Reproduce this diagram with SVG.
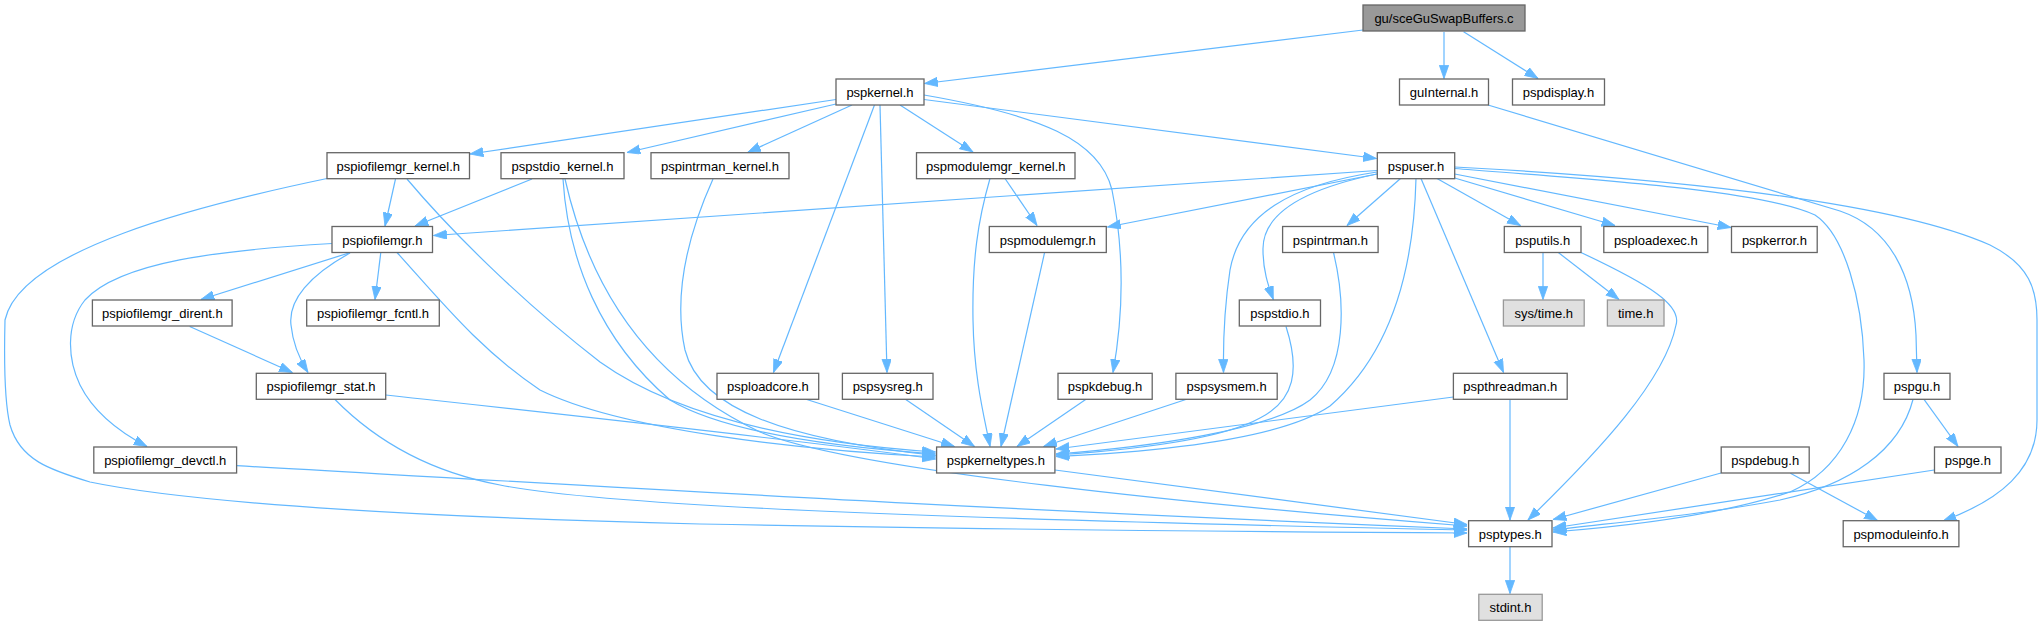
<svg xmlns="http://www.w3.org/2000/svg" width="2044" height="626" viewBox="0 0 2044 626">
<style>
.n rect{fill:#ffffff;stroke:#666666;stroke-width:1.3}
.n.main rect{fill:#999999;stroke:#666666}
.n.ext rect{fill:#e0e0e0;stroke:#999999}
.n text{font-family:"Liberation Sans",Arial,Helvetica,sans-serif;font-size:13px;fill:#000000;text-anchor:middle}
#edges path{fill:none;stroke:#63b8ff;stroke-width:1.2;marker-end:url(#arr)}
</style>
<defs>
<marker id="arr" markerUnits="userSpaceOnUse" markerWidth="14" markerHeight="10" refX="13.3" refY="4.7" orient="auto">
<path d="M0,0 L13.3,4.7 L0,9.4 z" fill="#63b8ff" stroke="#63b8ff" stroke-width="0.8"/>
</marker>
</defs>
<rect width="2044" height="626" fill="#ffffff"/>
<g id="edges">
<path d="M1363,30 L924.5,83.5"/>
<path d="M1444,32 L1444,78.5"/>
<path d="M1463.6,31.7 L1538,78.5"/>
<path d="M1488,105 L1840,211 C1890,228 1913,275 1916,335 L1917,372.5"/>
<path d="M836,99.5 L470,154"/>
<path d="M836,104 L627,152.5"/>
<path d="M852,105 L747.5,152.5"/>
<path d="M900,105 L973,152"/>
<path d="M924,99.5 L1376.5,158.5"/>
<path d="M874.5,105 L773.5,372.5"/>
<path d="M880,105 C882,200 885,290 887,372.5"/>
<path d="M924,95 C1040,115 1100,140 1112,190 C1122,240 1126,300 1113,372.5"/>
<path d="M1377,170.5 L433.5,235.5"/>
<path d="M1377,174 L1107.5,227"/>
<path d="M1400.5,178.5 L1347,225.5"/>
<path d="M1377,174 C1300,190 1262,215 1263,250 C1263,270 1268,285 1273.3,299.5"/>
<path d="M1377,172 C1290,185 1240,215 1230,270 C1224,310 1223,340 1223.5,372.5"/>
<path d="M1437,178.5 L1520.5,225.5"/>
<path d="M1454.7,178 L1615,225.5"/>
<path d="M1454.7,174 L1731,227.5"/>
<path d="M1421,178.5 L1503.5,372.5"/>
<path d="M1416,178.5 C1414,260 1395,350 1330,406 C1280,440 1150,452 1056,456.5"/>
<path d="M1453.4,397 L1056,449"/>
<path d="M1333.5,252.5 C1345,300 1348,370 1310,400 C1270,430 1150,447 1056,454"/>
<path d="M1286,326.5 C1300,370 1295,400 1260,418 C1220,440 1130,450 1056,455"/>
<path d="M407,179 C450,230 520,300 600,362 C660,405 760,440 935.5,452"/>
<path d="M563,179 C568,260 600,340 670,400 C720,430 820,446 935.5,454"/>
<path d="M565,179 C590,290 650,380 760,432 C850,470 1200,505 1467,526"/>
<path d="M397,252.5 C440,300 480,350 540,390 C620,430 800,450 935.5,457"/>
<path d="M385.7,395 C550,413 800,440 935.5,459"/>
<path d="M713,179 C690,230 672,290 685,350 C700,410 790,440 935.5,455.5"/>
<path d="M806,399.3 L954.5,446.5"/>
<path d="M905.4,399.3 L974.5,446.5"/>
<path d="M990,178.5 C978,220 972,260 973,320 C974,380 985,420 990,446.5"/>
<path d="M1044.6,252.5 L1001,446.5"/>
<path d="M1086,399.3 L1017,446.5"/>
<path d="M1186.6,399.3 L1043.5,446.5"/>
<path d="M395.5,179 L385,226"/>
<path d="M532,179 L415,226"/>
<path d="M327,178.5 C200,205 20,250 5,320 C4,360 4,400 10,425 C20,460 50,470 90,482 C200,505 450,518 700,524 C1000,530 1300,532 1467,533"/>
<path d="M335,399.5 C370,435 420,470 500,485 C600,505 900,518 1467,530"/>
<path d="M236.6,465.7 C700,492 1000,510 1467,529"/>
<path d="M1055,470 L1467,524.5"/>
<path d="M1510,399.5 L1510,520"/>
<path d="M1581,252.5 C1650,285 1682,305 1676,325 C1665,380 1600,450 1528,520"/>
<path d="M1721,473 L1553,519.5"/>
<path d="M1934.3,470 L1553,528"/>
<path d="M1913,399.5 C1900,450 1850,485 1780,500 C1700,515 1620,522 1553,530"/>
<path d="M1454.7,168.5 C1600,180 1760,190 1815,215 C1845,235 1862,300 1864,360 C1866,420 1840,470 1790,492 C1720,515 1630,526 1553,532"/>
<path d="M1454.7,167 C1700,180 1900,205 1990,245 C2030,265 2037,290 2037,320 L2037,420 C2037,470 2000,500 1943,521"/>
<path d="M1790.4,473.3 L1877.5,520.5"/>
<path d="M1924,399.3 L1958,446.5"/>
<path d="M1510,547 L1510,593.5"/>
<path d="M1543,252.5 L1543,299.5"/>
<path d="M1558.3,252.5 L1619,299.5"/>
<path d="M350.4,252.5 L200.9,299.5"/>
<path d="M380.8,252.5 L375,299.5"/>
<path d="M350,253 C310,275 288,300 291,325 C293,345 300,360 308,372.5"/>
<path d="M332,243.5 C220,250 120,262 85,300 C65,325 68,360 80,385 C95,415 125,435 147,446.5"/>
<path d="M189.7,326.5 L292.4,372.5"/>
<path d="M1005,178.5 L1037,225.5"/>
</g>
<g id="node-main" class="n main"><rect x="1363" y="5" width="162" height="26"/><text x="1444" y="23">gu/sceGuSwapBuffers.c</text></g>
<g id="node-guInternal" class="n"><rect x="1399.5" y="79" width="89" height="26"/><text x="1444" y="97">guInternal.h</text></g>
<g id="node-pspdisplay" class="n"><rect x="1512.5" y="79" width="92" height="26"/><text x="1558.5" y="97">pspdisplay.h</text></g>
<g id="node-pspkernel" class="n"><rect x="836" y="79" width="88" height="26"/><text x="880" y="97">pspkernel.h</text></g>
<g id="node-pspiofilemgr_kernel" class="n"><rect x="327" y="152.7" width="142.5" height="26"/><text x="398.3" y="170.7">pspiofilemgr_kernel.h</text></g>
<g id="node-pspstdio_kernel" class="n"><rect x="501" y="152.7" width="123" height="26"/><text x="562.5" y="170.7">pspstdio_kernel.h</text></g>
<g id="node-pspintrman_kernel" class="n"><rect x="651" y="152.7" width="138" height="26"/><text x="720" y="170.7">pspintrman_kernel.h</text></g>
<g id="node-pspmodulemgr_kernel" class="n"><rect x="916.5" y="152.7" width="158.5" height="26"/><text x="995.8" y="170.7">pspmodulemgr_kernel.h</text></g>
<g id="node-pspuser" class="n"><rect x="1377.3" y="152.7" width="77.4" height="26"/><text x="1416" y="170.7">pspuser.h</text></g>
<g id="node-pspiofilemgr" class="n"><rect x="332" y="226.5" width="100.5" height="26"/><text x="382.3" y="244.5">pspiofilemgr.h</text></g>
<g id="node-pspmodulemgr" class="n"><rect x="989.3" y="226.5" width="117" height="26"/><text x="1047.8" y="244.5">pspmodulemgr.h</text></g>
<g id="node-pspintrman" class="n"><rect x="1282.6" y="226.5" width="95.5" height="26"/><text x="1330.4" y="244.5">pspintrman.h</text></g>
<g id="node-psputils" class="n"><rect x="1504.3" y="226.5" width="76.7" height="26"/><text x="1542.7" y="244.5">psputils.h</text></g>
<g id="node-psploadexec" class="n"><rect x="1603.8" y="226.5" width="104" height="26"/><text x="1655.8" y="244.5">psploadexec.h</text></g>
<g id="node-pspkerror" class="n"><rect x="1731.5" y="226.5" width="85.7" height="26"/><text x="1774.4" y="244.5">pspkerror.h</text></g>
<g id="node-pspiofilemgr_dirent" class="n"><rect x="92.4" y="300" width="139.7" height="26"/><text x="162.3" y="318">pspiofilemgr_dirent.h</text></g>
<g id="node-pspiofilemgr_fcntl" class="n"><rect x="306.7" y="300" width="132.6" height="26"/><text x="373" y="318">pspiofilemgr_fcntl.h</text></g>
<g id="node-pspstdio" class="n"><rect x="1239.3" y="300" width="81.2" height="26"/><text x="1279.9" y="318">pspstdio.h</text></g>
<g id="node-sys_time" class="n ext"><rect x="1503.4" y="300" width="80.8" height="26"/><text x="1543.8" y="318">sys/time.h</text></g>
<g id="node-time" class="n ext"><rect x="1607.4" y="300" width="56.6" height="26"/><text x="1635.7" y="318">time.h</text></g>
<g id="node-pspiofilemgr_stat" class="n"><rect x="256.3" y="373.3" width="129.4" height="26"/><text x="321" y="391.3">pspiofilemgr_stat.h</text></g>
<g id="node-psploadcore" class="n"><rect x="717" y="373.3" width="101.7" height="26"/><text x="767.9" y="391.3">psploadcore.h</text></g>
<g id="node-pspsysreg" class="n"><rect x="842.4" y="373.3" width="90.6" height="26"/><text x="887.7" y="391.3">pspsysreg.h</text></g>
<g id="node-pspkdebug" class="n"><rect x="1058" y="373.3" width="94.2" height="26"/><text x="1105.1" y="391.3">pspkdebug.h</text></g>
<g id="node-pspsysmem" class="n"><rect x="1175.9" y="373.3" width="101.3" height="26"/><text x="1226.6" y="391.3">pspsysmem.h</text></g>
<g id="node-pspthreadman" class="n"><rect x="1453.4" y="373.3" width="113.8" height="26"/><text x="1510.3" y="391.3">pspthreadman.h</text></g>
<g id="node-pspgu" class="n"><rect x="1884" y="373.3" width="66" height="26"/><text x="1917" y="391.3">pspgu.h</text></g>
<g id="node-pspiofilemgr_devctl" class="n"><rect x="93.8" y="447" width="142.8" height="26"/><text x="165.2" y="465">pspiofilemgr_devctl.h</text></g>
<g id="node-pspkerneltypes" class="n"><rect x="936.6" y="447" width="118.3" height="26"/><text x="995.8" y="465">pspkerneltypes.h</text></g>
<g id="node-pspdebug" class="n"><rect x="1721.2" y="447" width="88" height="26"/><text x="1765.2" y="465">pspdebug.h</text></g>
<g id="node-pspge" class="n"><rect x="1934.5" y="447" width="66.5" height="26"/><text x="1967.8" y="465">pspge.h</text></g>
<g id="node-psptypes" class="n"><rect x="1468.6" y="520.7" width="83.4" height="26"/><text x="1510.3" y="538.7">psptypes.h</text></g>
<g id="node-pspmoduleinfo" class="n"><rect x="1843.2" y="520.7" width="115.7" height="26"/><text x="1901.1" y="538.7">pspmoduleinfo.h</text></g>
<g id="node-stdint" class="n ext"><rect x="1478.8" y="594.3" width="63.4" height="26"/><text x="1510.5" y="612.3">stdint.h</text></g>
</svg>
